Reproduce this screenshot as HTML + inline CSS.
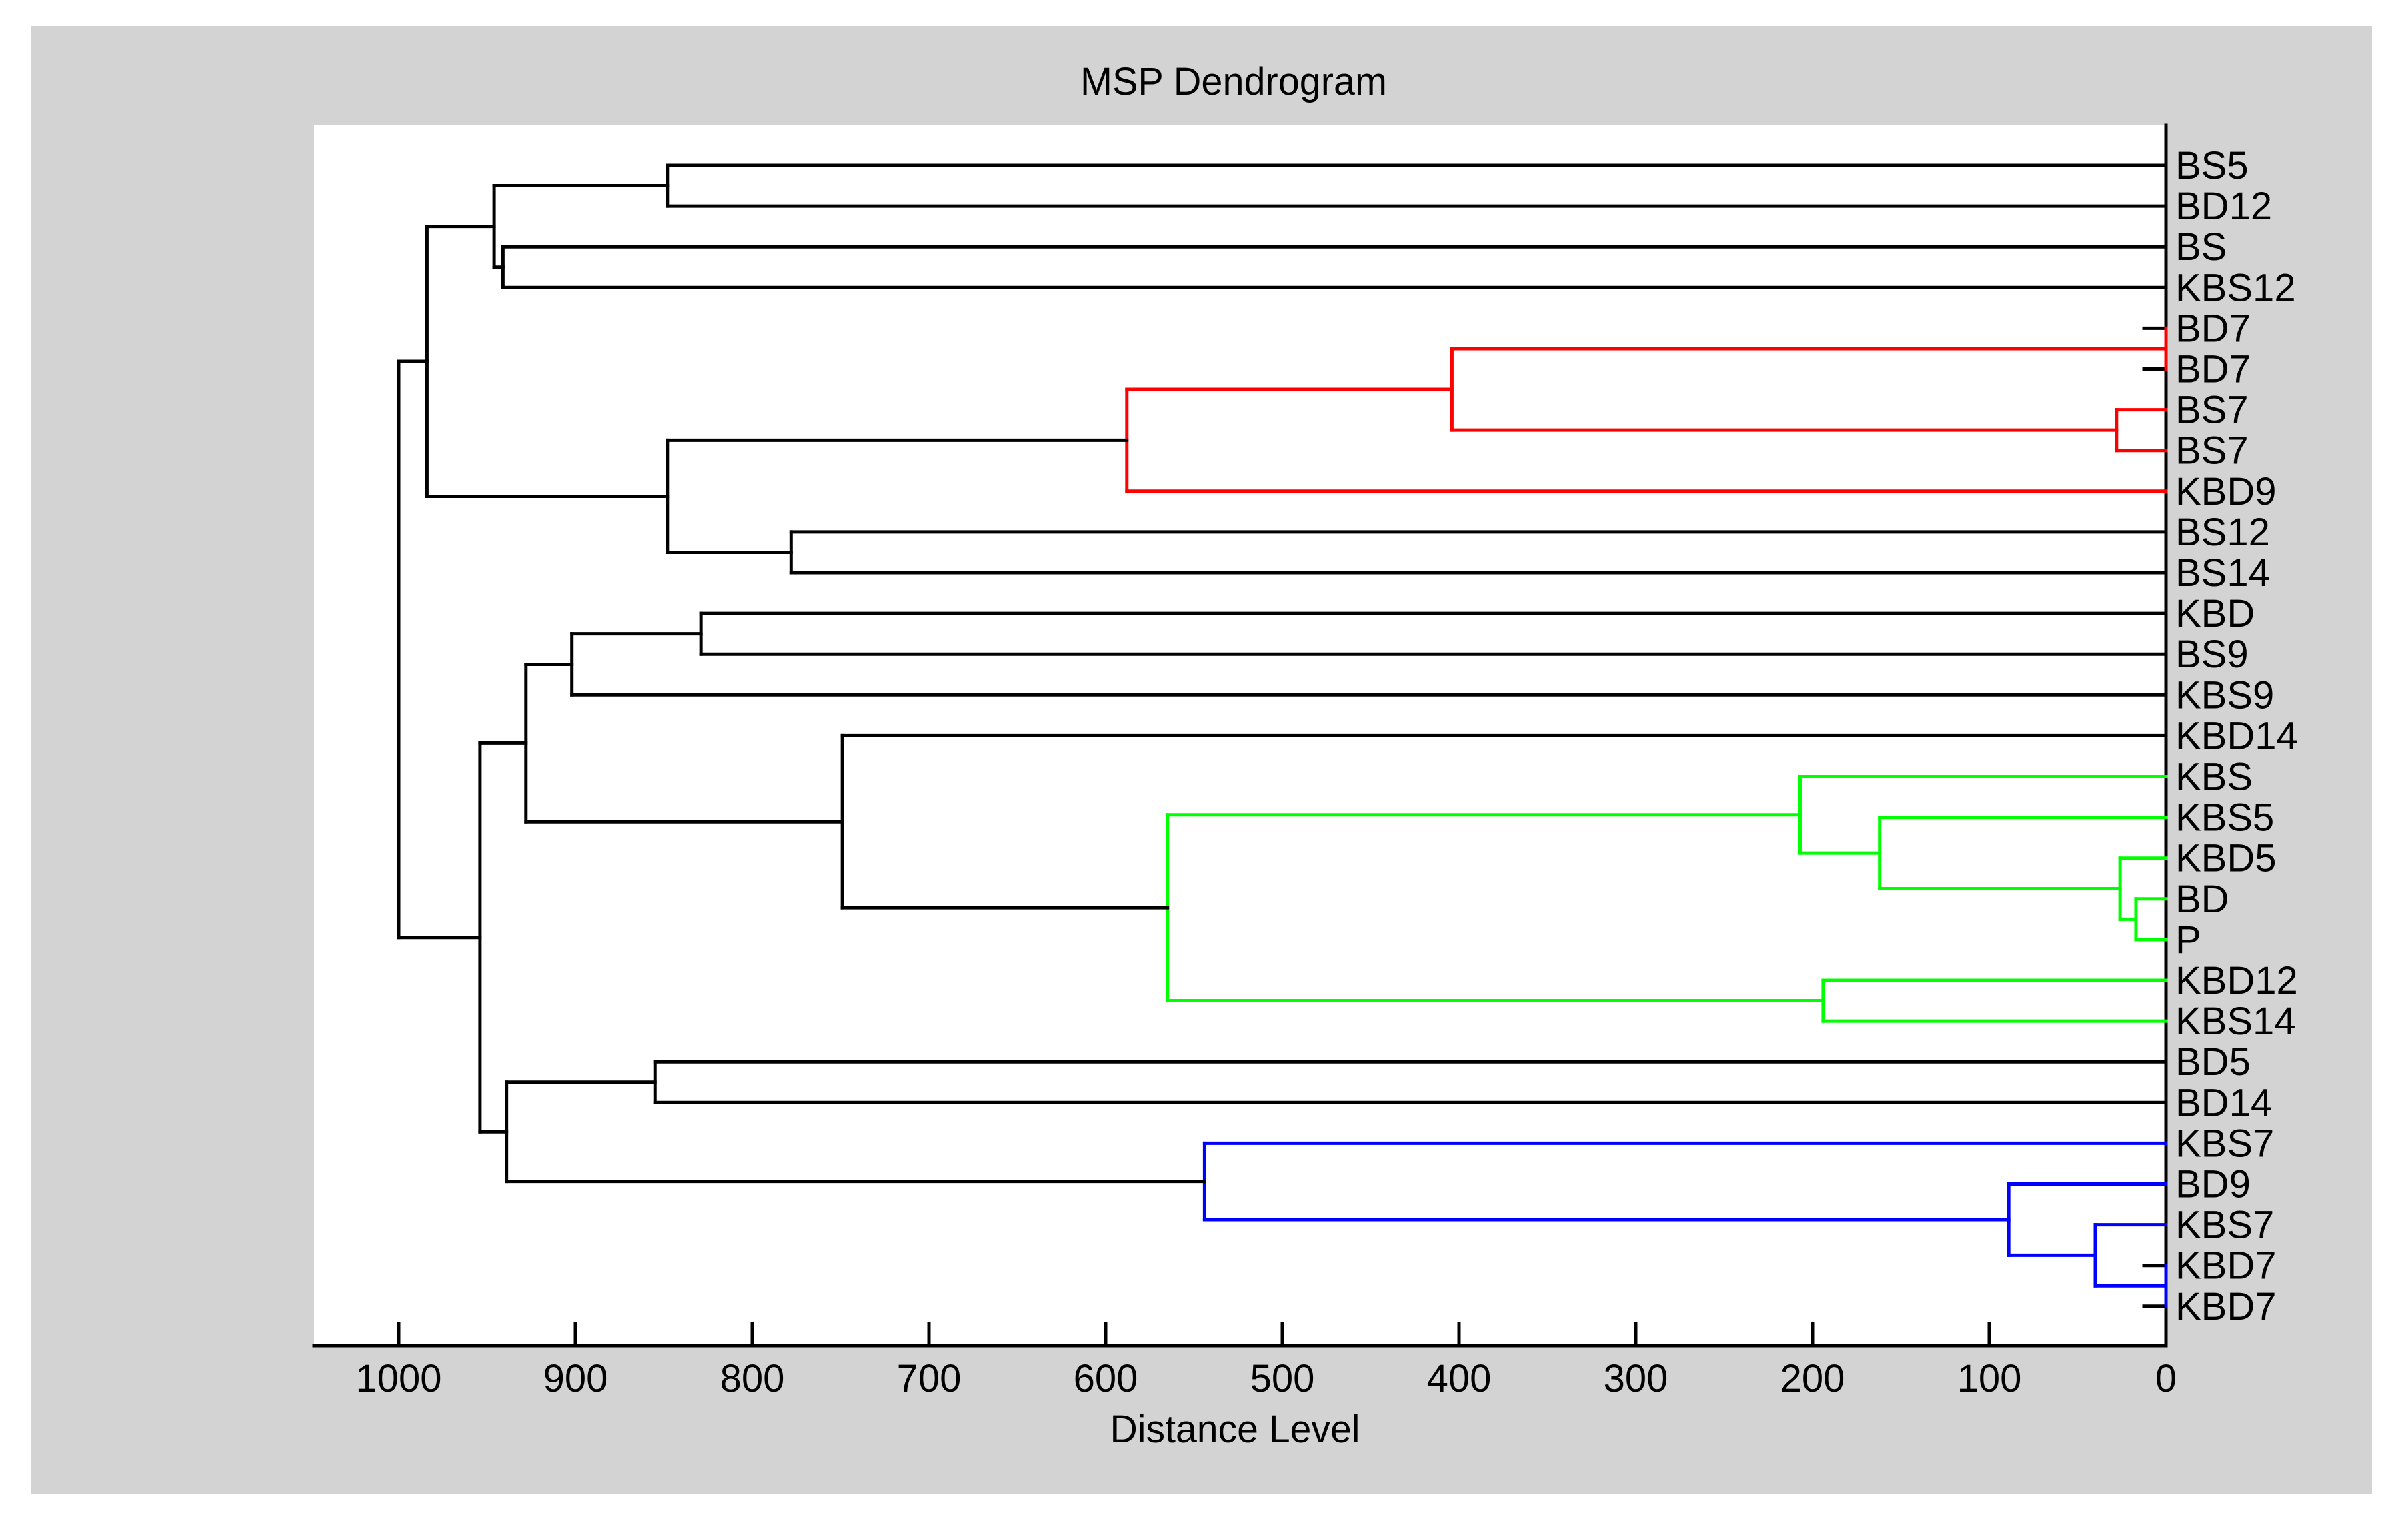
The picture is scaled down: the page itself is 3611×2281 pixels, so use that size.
<!DOCTYPE html>
<html><head><meta charset="utf-8"><style>
html,body{margin:0;padding:0;background:#fff;}
svg{display:block;font-family:"Liberation Sans",sans-serif;}
</style></head><body>
<svg id="chart" width="3611" height="2281" viewBox="0 0 3611 2281" xmlns="http://www.w3.org/2000/svg">
<rect x="0" y="0" width="3611" height="2281" fill="#ffffff"/>
<rect x="46" y="39" width="3511" height="2201" fill="#d3d3d3"/>
<rect x="471" y="188" width="2778" height="1830" fill="#ffffff"/>
<text x="1850" y="142" font-size="58" text-anchor="middle" textLength="460" lengthAdjust="spacingAndGlyphs" fill="#000">MSP Dendrogram</text>
<text x="1852" y="2163" font-size="58" text-anchor="middle" textLength="375" lengthAdjust="spacingAndGlyphs" fill="#000">Distance Level</text>
<g id="ticks"></g>
<g id="tree"></g>
<g id="labels"></g>
</svg>
<script>
const leafLabels = ["BS5","BD12","BS","KBS12","BD7","BD7","BS7","BS7","KBD9","BS12","BS14","KBD","BS9","KBS9","KBD14","KBS","KBS5","KBD5","BD","P","KBD12","KBS14","BD5","BD14","KBS7","BD9","KBS7","KBD7","KBD7"];
const mergeLeft  = [0,2,29,4,6,32,34,9,35,31,11,39,18,17,16,15,20,44,14,40,22,27,26,25,24,49,48,38];
const mergeRight = [1,3,30,5,7,33,8,10,36,37,12,13,19,41,42,43,21,45,46,47,23,28,50,51,52,53,54,55];
const mergeHeight= [848,941,946,0,28,404,588,778,848,984,829,902,17,26,162,207,194,565,749,928,855,0,40,89,544,939,954,1000];
const mergeColor = ["k","k","k","r","r","r","r","k","k","k","k","k","g","g","g","g","g","g","k","k","k","b","b","b","b","k","k","k"];
const tickValues = [0,100,200,300,400,500,600,700,800,900,1000];

const NS="http://www.w3.org/2000/svg";
const X0=3248, PXU=2.65, Y0=248, DY=61.1, AXY=2018, TOP=188, LEFT=471;
const colors={k:"#000000",r:"#ff0000",g:"#00ff00",b:"#0000ff"};
function xs(v){return X0 - v*PXU;}
function leafY(i){return Y0 + i*DY;}
function line(parent,x1,y1,x2,y2,c,w){
  const l=document.createElementNS(NS,"line");
  l.setAttribute("x1",x1);l.setAttribute("y1",y1);l.setAttribute("x2",x2);l.setAttribute("y2",y2);
  l.setAttribute("stroke",c);l.setAttribute("stroke-width",w);l.setAttribute("stroke-linecap","square");
  return l;
}
const svg=document.getElementById("chart");
const tg=document.getElementById("ticks"), tree=document.getElementById("tree"), lg=document.getElementById("labels");

// axes
let a=line(tg,LEFT,AXY,X0,AXY,"#000",5);


tg.appendChild(a);
let r=line(tg,X0,TOP,X0,AXY,"#000",5);


tg.appendChild(r);
tickValues.forEach(v=>{
  const t=line(tg,xs(v),AXY,xs(v),AXY-33,"#000",5);
  
  
  tg.appendChild(t);
  const tx=document.createElementNS(NS,"text");
  tx.setAttribute("x",xs(v));tx.setAttribute("y",2087);tx.setAttribute("font-size","58");
  tx.setAttribute("text-anchor","middle");tx.textContent=v;
  
  
  tg.appendChild(tx);
});

// tree
const N=leafLabels.length;
const nodeY=[], nodeH=[];
for(let i=0;i<N;i++){nodeY.push(leafY(i));nodeH.push(0);}
for(let m=0;m<mergeLeft.length;m++){
  const a1=mergeLeft[m], b1=mergeRight[m], h=mergeHeight[m], c=colors[mergeColor[m]];
  const ya=nodeY[a1], yb=nodeY[b1];
  if(h===0){
    [a1,b1].forEach(ch=>{
      const s=line(tree,xs(0)-33,nodeY[ch],xs(0),nodeY[ch],"#000",5);
      
      
      tree.appendChild(s);
    });
  }
  const ha=line(tree,xs(nodeH[a1]),ya,xs(h),ya,c,5);
  
  
  tree.appendChild(ha);
  const hb=line(tree,xs(nodeH[b1]),yb,xs(h),yb,c,5);
  
  
  tree.appendChild(hb);
  const vv=line(tree,xs(h),ya,xs(h),yb,c,5);
  
  
  tree.appendChild(vv);
  nodeY.push((ya+yb)/2);nodeH.push(h);
}

// leaf labels
leafLabels.forEach((lab,i)=>{
  const tx=document.createElementNS(NS,"text");
  tx.setAttribute("x",3262);tx.setAttribute("y",leafY(i)+20);tx.setAttribute("font-size","58");
  tx.textContent=lab;
  
  
  lg.appendChild(tx);
});
</script>
</body></html>
